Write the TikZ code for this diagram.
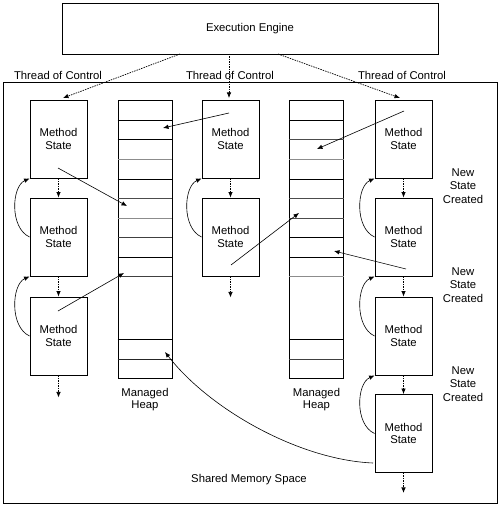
\documentclass[tikz,border=0pt]{standalone}
\usepackage{fontspec}
\setmainfont{Liberation Sans}
\usetikzlibrary{arrows.meta,calc}
\begin{document}
\begin{tikzpicture}[x=1pt,y=-1pt,
  txt/.style={font=\fontsize{11.3}{12.5}\selectfont, align=center, inner sep=0pt},
  mstate/.style={txt, draw, line width=0.9pt, minimum width=57pt, minimum height=78pt},
  heap/.style={draw, line width=0.8pt, minimum width=54pt, minimum height=278pt, inner sep=0pt},
  hline/.style={line width=0.7pt},
  ptr/.style={line width=0.6pt, -{Latex[length=5.5pt,width=4.5pt]}},
  flow/.style={line width=0.7pt, dash pattern=on 1.5pt off 1pt, -{Latex[length=5.5pt,width=4.5pt]}}
]
\useasboundingbox (0,0) rectangle (500,505);
% outer shared memory space
\node[draw, line width=1pt, minimum width=494pt, minimum height=420pt, inner sep=0pt] (mem) at (250,293) {};
\node[txt] (memlbl) at (249,480) {Shared Memory Space};
% execution engine
\node[txt, draw, line width=0.9pt, minimum width=376pt, minimum height=51pt] (eng) at (250,28.5) {Execution Engine};
% thread labels
\node[txt] (t1) at (58,75) {Thread of Control};
\node[txt] (t2) at (230,75) {Thread of Control};
\node[txt] (t3) at (402,75) {Thread of Control};
% method states column 1
\node[mstate] (a1) at (58.5,139) {Method\\State};
\node[mstate] (a2) at (58.5,237) {Method\\State};
\node[mstate] (a3) at (58.5,336) {Method\\State};
% column 2
\node[mstate] (b1) at (230.5,139) {Method\\State};
\node[mstate] (b2) at (230.5,237) {Method\\State};
% column 3
\node[mstate] (c1) at (403.5,139) {Method\\State};
\node[mstate] (c2) at (403.5,237) {Method\\State};
\node[mstate] (c3) at (403.5,336) {Method\\State};
\node[mstate] (c4) at (403.5,433.5) {Method\\State};
% new state labels
\node[txt, font=\fontsize{11.3}{13.5}\selectfont] (n1) at (463,186) {New\\State\\Created};
\node[txt, font=\fontsize{11.3}{13.5}\selectfont] (n2) at (463,285) {New\\State\\Created};
\node[txt, font=\fontsize{11.3}{13.5}\selectfont] (n3) at (463,384) {New\\State\\Created};
% heaps
\node[heap] (h1) at (145,239) {};
\node[heap] (h2) at (316.5,239) {};
\foreach \y/\c in {120/black,139/black,159/black!45,179/black,198/black!70,218/black!45,237/black!75,257/black,276/black!75,339/black,359/black!85}{
  \draw[hline, draw=\c] (h1.west |- 0,\y) -- (h1.east |- 0,\y);
}
\foreach \y/\c in {120/black,139/black!70,159/black!45,179/black,198/black!70,218/black!70,237/black,257/black,276/black!45,339/black,359/black!75}{
  \draw[hline, draw=\c] (h2.west |- 0,\y) -- (h2.east |- 0,\y);
}
\node[txt] (hl1) at (145,399.5) {Managed\\Heap};
\node[txt] (hl2) at (316.5,399.5) {Managed\\Heap};
% threads of control from engine
\coordinate (e1) at (180,54);
\coordinate (e2) at (229,54);
\coordinate (e3) at (278,54);
\coordinate (d1) at (63,98);
\coordinate (d2) at (229,98);
\coordinate (d3) at (400,98);
\draw[flow] (e1) -- (d1);
\draw[flow] (e2) -- (d2);
\draw[flow] (e3) -- (d3);
% flow between states
\draw[flow] (a1.south) -- (a2.north);
\draw[flow] (a2.south) -- (a3.north);
\draw[flow] (a3.south) -- ++(0,22);
\draw[flow] (b1.south) -- (b2.north);
\draw[flow] (b2.south) -- ++(0,21);
\draw[flow] (c1.south) -- (c2.north);
\draw[flow] (c2.south) -- (c3.north);
\draw[flow] (c3.south) -- (c4.north);
\draw[flow] (c4.south) -- ++(0,20);
% return arrows
\foreach \lo/\hi in {a2/a1,a3/a2,b2/b1,c2/c1,c3/c2,c4/c3}{
  \draw[ptr] (\lo.west) .. controls +(-20,-9) and +(-18,8) .. (\hi.south west);
}
% pointers into heaps
\coordinate (s1) at (58,168);  \coordinate (q1) at (127,206);
\coordinate (s2) at (58,311);  \coordinate (q2) at (124,273);
\coordinate (s3) at (229,113); \coordinate (q3) at (163,128);
\coordinate (s4) at (231,265); \coordinate (q4) at (299,213);
\coordinate (s5) at (404,111); \coordinate (q5) at (317,149);
\coordinate (s6) at (406,269); \coordinate (q6) at (334,251);
\coordinate (s7) at (373,463); \coordinate (q7) at (165,352);
\draw[ptr] (s1) -- (q1);
\draw[ptr] (s2) -- (q2);
\draw[ptr] (s3) -- (q3);
\draw[ptr] (s4) -- (q4);
\draw[ptr] (s5) -- (q5);
\draw[ptr] (s6) -- (q6);
\draw[ptr] (s7) .. controls (300,460) and (210,410) .. (q7);
\end{tikzpicture}
\end{document}
